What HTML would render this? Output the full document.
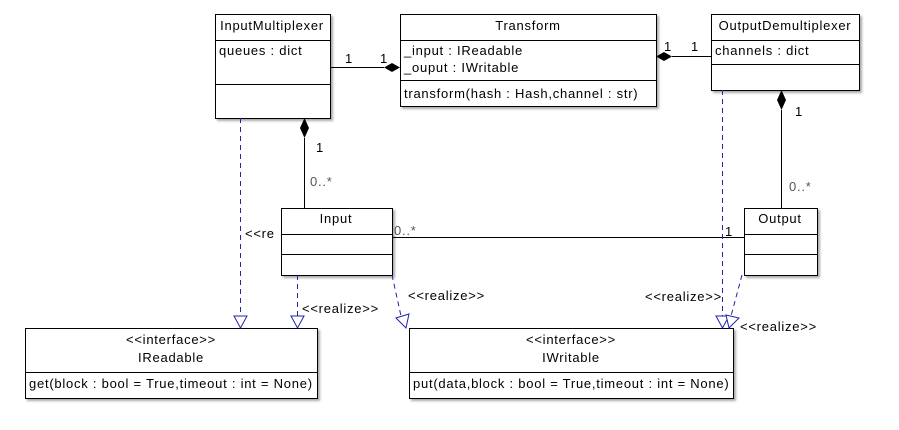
<!DOCTYPE html>
<html><head><style>body{margin:0;background:#fff}svg{display:block}text{font-family:"Liberation Sans",sans-serif;font-size:13px;letter-spacing:0.75px;fill:#000}</style></head><body>
<svg width="899" height="430" viewBox="0 0 899 430" xmlns="http://www.w3.org/2000/svg">
<defs><filter id="s" x="-5%" y="-5%" width="115%" height="115%"><feDropShadow dx="2" dy="2" stdDeviation="1" flood-color="#aaa"/></filter></defs>
<g stroke="#000" stroke-width="1" fill="#fff" filter="url(#s)">
<rect x="215.5" y="14.5" width="115" height="104"/>
<rect x="400.5" y="14.5" width="256" height="92"/>
<rect x="711.5" y="14.5" width="148" height="76"/>
<rect x="281.5" y="208.5" width="111" height="67"/>
<rect x="744.5" y="208.5" width="73" height="67"/>
<rect x="25.5" y="328.5" width="292" height="70"/>
<rect x="409.5" y="328.5" width="324" height="70"/>
</g>
<g stroke="#000" stroke-width="1" fill="none">
<path d="M215 40.5H330M215 84.5H330M400 40.5H656M400 80.5H656M711 40.5H859M711 64.5H859M281 234.5H392M281 254.5H392M744 234.5H817M744 254.5H817M25 372.5H317M409 372.5H733"/>
<path d="M330 67.5H384M672 56.5H711M304.5 138V208M781.5 110V208M392 237.5H744"/>
</g>
<g fill="#000">
<path d="M400 67.5L392 63L384 67.5L392 72Z"/>
<path d="M656 56.5L664 52L672 56.5L664 61Z"/>
<path d="M304.5 118L300 128L304.5 138L309 128Z"/>
<path d="M781.5 90L777 100L781.5 110L786 100Z"/>
</g>
<g stroke="#2222aa" stroke-width="1" fill="none" stroke-dasharray="5,4">
<path d="M240.5 118V316M297.5 275V316M392 275L401 316M722.5 90V316M742 275L731 316"/>
</g>
<g stroke="#2222aa" stroke-width="1" fill="#fff">
<path d="M234 316H247L240.5 328Z"/>
<path d="M291 316H304L297.5 328Z"/>
<path d="M396 318L409 314L406 328Z"/>
<path d="M716 316H729L722.5 328Z"/>
<path d="M726 315L739 318L729 328Z"/>
</g>
<g text-anchor="middle">
<text x="272" y="30">InputMultiplexer</text>
<text x="528" y="30">Transform</text>
<text x="785" y="30">OutputDemultiplexer</text>
<text x="336" y="223">Input</text>
<text x="780" y="223">Output</text>
<text x="171" y="344">&lt;&lt;interface&gt;&gt;</text>
<text x="171" y="362">IReadable</text>
<text x="571" y="344">&lt;&lt;interface&gt;&gt;</text>
<text x="571" y="362">IWritable</text>
</g>
<text x="219" y="55">queues : dict</text>
<text x="404" y="55">_input : IReadable</text>
<text x="404" y="72">_ouput : IWritable</text>
<text x="404" y="98">transform(hash : Hash,channel : str)</text>
<text x="715" y="55">channels : dict</text>
<text x="29" y="388">get(block : bool = True,timeout : int = None)</text>
<text x="413" y="388">put(data,block : bool = True,timeout : int = None)</text>
<g style="font-size:12px;letter-spacing:0.5px">
<text x="345" y="63">1</text><text x="380" y="63">1</text>
<text x="664" y="51">1</text><text x="691" y="51">1</text>
<text x="316" y="152">1</text><text x="310" y="186" style="fill:#555">0..*</text>
<text x="795" y="116">1</text><text x="789" y="191" style="fill:#555">0..*</text>
<text x="394" y="235" style="fill:#555">0..*</text><text x="725" y="236">1</text>
</g>
<g style="font-size:11px;letter-spacing:1.6px;fill:#333">
<text x="245" y="238">&lt;&lt;re</text>
<text x="302" y="313">&lt;&lt;realize&gt;&gt;</text>
<text x="408" y="300">&lt;&lt;realize&gt;&gt;</text>
<text x="645" y="301">&lt;&lt;realize&gt;&gt;</text>
<text x="740" y="331">&lt;&lt;realize&gt;&gt;</text>
</g>
</svg>
</body></html>
